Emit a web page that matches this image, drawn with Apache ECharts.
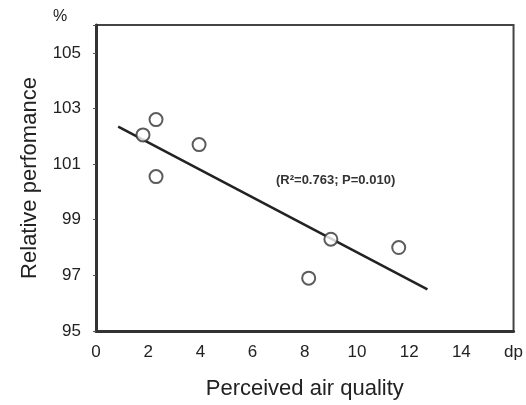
<!DOCTYPE html>
<html>
<head>
<meta charset="utf-8">
<script src="https://cdn.jsdelivr.net/npm/echarts@6/dist/echarts.min.js"></script>
<style>
  html, body { margin: 0; padding: 0; background: #fff; }
  #main { width: 526px; height: 405px; }
</style>
</head>
<body>
<div id="main"></div>
<script>
var airQuality = [1.8, 2.3, 2.3, 3.95, 9.0, 11.6, 8.15];
var performance = [102.05, 102.6, 100.55, 101.7, 98.3, 98.0, 96.9];

// regression line end points
var fitX = [0.85, 12.7];
var fitY = [102.35, 96.5];

var points = [];
for (let i = 0; i < airQuality.length; i++) {
    points.push([airQuality[i], performance[i]]);
}
var fitLine = [];
for (let i = 0; i < fitX.length; i++) {
    fitLine.push([fitX[i], fitY[i]]);
}

var myChart = echarts.init(document.getElementById('main'));

var font = 'Liberation Sans, Arial, sans-serif';

var option = {
    animation: false,
    backgroundColor: '#fff',
    textStyle: {fontFamily: font},
    grid: {
        left: 96,
        right: 8,
        top: 25,
        bottom: 72,
        show: true,
        borderColor: '#444',
        borderWidth: 2
    },
    xAxis: {
        type: 'value',
        min: 0,
        max: 16,
        interval: 2,
        name: 'Perceived air quality',
        nameLocation: 'middle',
        nameGap: 47,
        nameTextStyle: {fontSize: 22, color: '#222', fontFamily: font},
        splitLine: {show: false},
        axisLine: {lineStyle: {color: '#333', width: 3}},
        axisTick: {show: false},
        axisLabel: {
            fontSize: 17,
            color: '#222',
            margin: 13,
            fontFamily: font,
            formatter: function (v) { return v === 16 ? 'dp' : v; }
        }
    },
    yAxis: {
        type: 'value',
        min: 95,
        max: 106,
        interval: 2,
        name: 'Relative perfomance',
        nameLocation: 'middle',
        nameGap: 55,
        nameTextStyle: {fontSize: 22, color: '#222', fontFamily: font},
        splitLine: {show: false},
        axisLine: {lineStyle: {color: '#333', width: 3}},
        axisTick: {show: true, length: 3, lineStyle: {color: '#555'}},
        axisLabel: {
            fontSize: 17,
            color: '#222',
            margin: 15,
            fontFamily: font,
            formatter: function (v) { return v === 106 ? '' : v; }
        }
    },
    graphic: [
        {
            type: 'text',
            left: 53,
            top: 9,
            style: {text: '%', fontSize: 16, fill: '#222', fontFamily: font}
        },
        {
            type: 'text',
            left: 276,
            top: 174,
            style: {
                text: '(R²=0.763; P=0.010)',
                fontSize: 13,
                fontWeight: 'bold',
                fill: '#333',
                fontFamily: font
            }
        }
    ],
    series: [
        {
            name: 'fit',
            type: 'line',
            data: fitLine,
            symbol: 'none',
            lineStyle: {color: '#222', width: 2.5},
            z: 2
        },
        {
            name: 'data',
            type: 'scatter',
            data: points,
            symbol: 'emptyCircle',
            symbolSize: 13,
            itemStyle: {color: '#333', borderColor: '#333', borderWidth: 2},
            z: 3
        }
    ]
};
myChart.setOption(option);
</script>
</body>
</html>
